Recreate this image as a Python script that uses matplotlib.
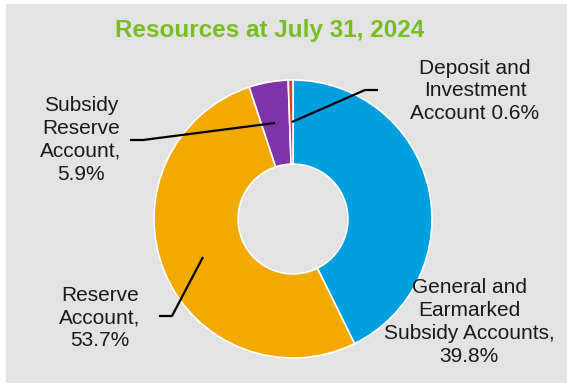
import matplotlib
matplotlib.use("Agg")
import matplotlib.pyplot as plt
from matplotlib.patches import Rectangle

plt.rcParams['font.family'] = ['Liberation Sans', 'DejaVu Sans']

title = "Resources at July 31, 2024"
categories = ["General and\nEarmarked\nSubsidy Accounts,", "Reserve\nAccount,",
              "Subsidy\nReserve\nAccount,", "Deposit and\nInvestment\nAccount"]
# percentages printed in the labels
label_pct = ["39.8%", "53.7%", "5.9%", "0.6%"]
# slice sizes as drawn in the picture (measured angles)
values = [42.7, 52.2, 4.55, 0.55]
colors = ["#009FDF", "#F2A900", "#7F33A9", "#E03C31"]

W, H = 567, 385
fig = plt.figure(figsize=(W / 100, H / 100), dpi=100, facecolor="white")
ax = fig.add_axes([0, 0, 1, 1])

def Y(py):
    return H - py

ax.add_patch(Rectangle((6, Y(383)), W - 6, 379, facecolor="#E3E3E3", edgecolor="none", zorder=0))

cx, cy, r = 293, 219, 139
ax.pie(values, colors=colors, startangle=90, counterclock=False,
       center=(cx, Y(cy)), radius=r, frame=True,
       wedgeprops=dict(width=r * 0.605, edgecolor="white", linewidth=1.2))
ax.set_xlim(0, W)
ax.set_ylim(0, H)
ax.set_aspect("auto")
ax.axis("off")

ax.text(270, Y(31), title, ha="center", va="center", fontsize=17.5,
        fontweight="bold", color="#78BE20")

fs = 15
ls = 1.25
labels = [f"{categories[0]}\n{label_pct[0]}",
          f"{categories[1]}\n{label_pct[1]}",
          f"{categories[2]}\n{label_pct[2]}",
          f"{categories[3]} {label_pct[3]}"]
tk = dict(ha="center", va="center", fontsize=fs, color="#1a1a1a", linespacing=ls)
ax.text(469, Y(322), labels[0], **tk)
ax.text(100, Y(318), labels[1], **tk)
ax.text(81, Y(140), labels[2], **tk)
ax.text(475, Y(91), labels[3], **tk)

lk = dict(color="black", lw=1.6, solid_capstyle="butt", zorder=5)
ax.plot([292, 365, 378], [Y(122), Y(90), Y(90)], **lk)
ax.plot([130, 143, 275], [Y(140), Y(140), Y(123)], **lk)
ax.plot([159, 172, 203], [Y(316), Y(316), Y(257)], **lk)

fig.savefig("out.png", dpi=100, facecolor="white")
